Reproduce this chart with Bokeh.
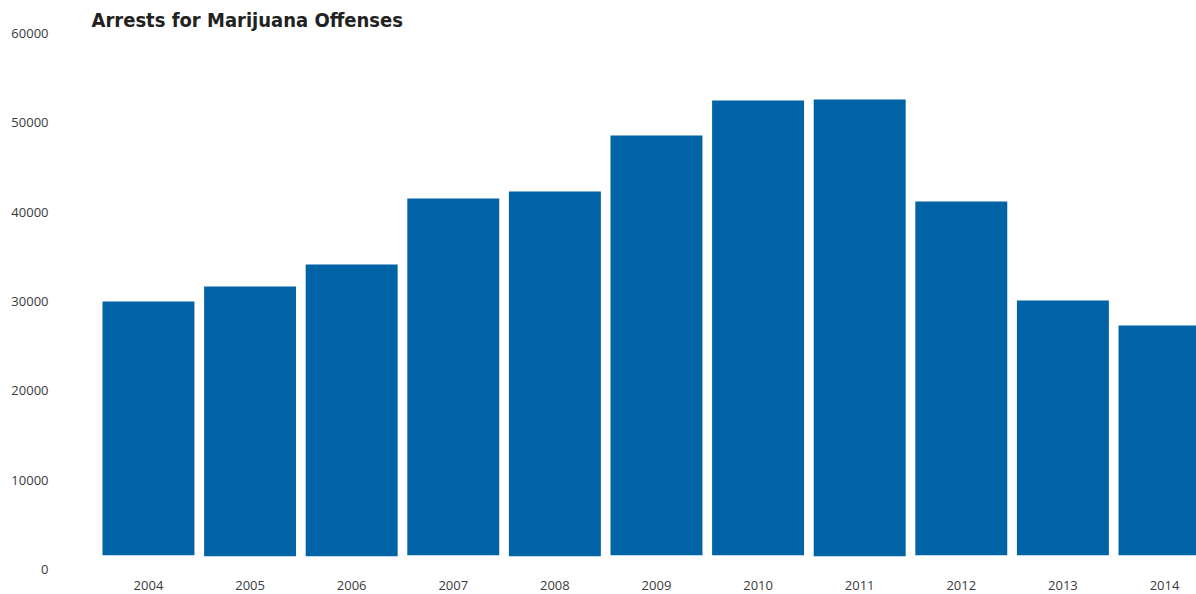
from bokeh.plotting import figure
from bokeh.models import Range1d, FixedTicker, BasicTickFormatter, Label
from bokeh.embed import file_html
from bokeh.resources import INLINE

years = [2004, 2005, 2006, 2007, 2008, 2009, 2010, 2011, 2012, 2013, 2014]
arrests = [30000, 31680, 34140, 41530, 42310, 48580, 52500, 52610, 41200, 30110, 27310]
bar_base = [1600, 1490, 1490, 1600, 1490, 1600, 1600, 1490, 1600, 1600, 1600]
y_ticks = [0, 10000, 20000, 30000, 40000, 50000, 60000]
title_text = "Arrests for Marijuana Offenses"

p = figure(width=1196, height=594, output_backend="svg", toolbar_location=None,
           x_range=Range1d(2003.085, 2014.315), y_range=Range1d(0, 63694),
           min_border_left=55, min_border_right=0, min_border_top=0, min_border_bottom=25)

p.vbar(x=years, width=0.905, top=arrests, bottom=bar_base, color="#0063A6", line_color=None)

p.xgrid.visible = False
p.ygrid.visible = False
p.outline_line_color = None
p.background_fill_color = "white"
p.border_fill_color = "white"

for ax in (p.xaxis[0], p.yaxis[0]):
    ax.axis_line_color = None
    ax.major_tick_line_color = None
    ax.minor_tick_line_color = None
    ax.major_tick_out = 0
    ax.major_tick_in = 0
    ax.major_label_text_font = "Open Sans"
    ax.major_label_text_font_size = "13px"
    ax.major_label_text_color = "#3a3a3a"

p.xaxis[0].ticker = FixedTicker(ticks=years)
p.xaxis[0].major_label_standoff = 11
p.yaxis[0].ticker = FixedTicker(ticks=y_ticks)
p.yaxis[0].formatter = BasicTickFormatter(use_scientific=False)
p.yaxis[0].major_label_standoff = 7

title = Label(x=36, y=550, x_units="screen", y_units="screen", text=title_text,
              text_font="'Liberation Sans Narrow', 'DejaVu Sans Condensed', sans-serif",
              text_font_style="bold", text_font_size="20px", text_color="#222222",
              text_baseline="alphabetic", text_align="left")
p.add_layout(title)

open("out.html", "w").write(file_html(p, INLINE))
